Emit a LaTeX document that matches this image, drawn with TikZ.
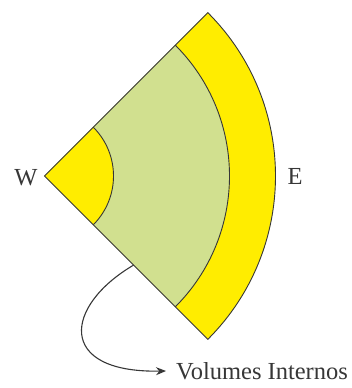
\documentclass[tikz,border=0pt]{standalone}
\usepackage{fontspec}
\setmainfont{Liberation Serif}
\usetikzlibrary{arrows.meta,calc}
\definecolor{yel}{RGB}{255,237,0}
\definecolor{grn}{RGB}{209,224,143}
\definecolor{edge}{RGB}{55,55,55}
\begin{document}
\begin{tikzpicture}[x=1pt,y=1pt,
  outline/.style={draw=edge,line width=0.9pt,line join=miter},
  lbl/.style={font=\fontsize{24.5}{28}\selectfont,text=edge,inner sep=0pt}]
\useasboundingbox (0,0) rectangle (352,388);
\coordinate (apex) at (44.5,212);
% fills
\fill[yel] (apex) -- ++(45:231) arc[start angle=45,end angle=-45,radius=231] -- cycle;
\fill[grn] (apex) -- ++(45:185) arc[start angle=45,end angle=-45,radius=185] -- cycle;
\fill[yel] (apex) -- ++(45:69) arc[start angle=45,end angle=-45,radius=69] -- cycle;
% outlines
\draw[outline] (apex) -- ++(45:231) arc[start angle=45,end angle=-45,radius=231] -- cycle;
\draw[outline] ($(apex)+(45:185)$) arc[start angle=45,end angle=-45,radius=185];
\draw[outline] ($(apex)+(45:69)$) arc[start angle=45,end angle=-45,radius=69];
% labels
\node[lbl] (w) at (26,210) {W};
\node[lbl] (e) at (295,212) {E};
\node[lbl,anchor=west] (vi) at (176,17) {Volumes Internos};
\coordinate (s) at ($(apex)+(-45:126)$);
\draw[draw=edge,line width=1.1pt,-{Stealth[length=10pt,width=8pt]}] (s) .. controls (64,82) and (56,15) .. ([xshift=-10pt]vi.west);
\end{tikzpicture}
\end{document}
